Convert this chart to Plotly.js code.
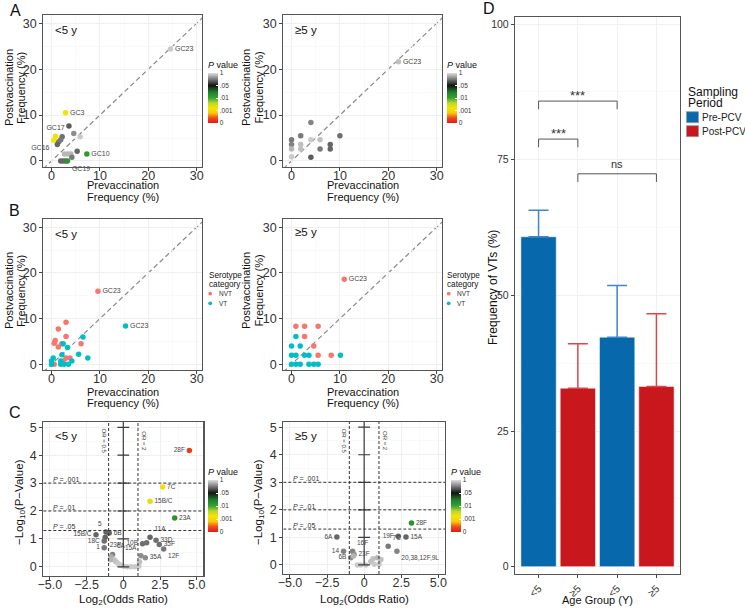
<!DOCTYPE html>
<html><head><meta charset="utf-8">
<script src="https://cdn.plot.ly/plotly-3.0.1.min.js"></script>
<style>body{margin:0;background:#fff}#c{width:745px;height:608px}</style>
</head><body><div id="c"></div>
<script>
// ---------------- DATA ----------------
// Panel A (<5 y): prevaccination vs postvaccination frequency (%), colour position on P-value bar (0=0,1=.001,2=.01,3=.05,4=1)
const aLeftPre   = [24.6, 2.9, 3.6, 4.6, 5.9, 0.83, 0.48, 2.2, 1.9, 1.5, 1.2, 5.3, 2.7, 3.4, 4.0, 4.2, 1.9, 2.4, 2.9, 3.3, 7.3];
const aLeftPost  = [24.4,10.5, 7.6, 6.0, 5.3, 5.4, 4.5, 5.3, 4.6, 4.2, 3.6, 2.1, 1.5, 1.5, 1.5, 0.8, 0, 0, 0, 0, 1.5];
const aLeftPcol  = [3.9, 1.15,3.35,3.6, 3.9, 1.1, 1.2, 3.45,3.5, 3.5, 3.4, 3.4, 3.8, 3.8, 3.8, 3.5, 3.4,3.4,3.4,2.2,2.15];
const aLeftLabel = ['GC23','GC3','','','','GC17','GC16','','','','','','','','','','','','','GC19','GC10'];
const aLeftLabPos= ['middle right','middle right','','','','top center','bottom left','','','','','','','','','','','','','bottom right','middle right'];
// Panel A (>=5 y)
const aRightPre  = [0, 0, 0, 0, 1.9, 1.9, 1.9, 4.0, 4.0, 4.0, 5.9, 5.9, 8.0, 8.0, 10.0, 22.1];
const aRightPost = [4.6,3.6,2.6,0.9,5.5, 3.6, 2.6, 8.4, 4.6, 0.8, 4.6, 2.6, 3.6, 2.6, 5.5, 21.6];
const aRightPcol = [3.5,3.55,3.8,3.9,3.5,3.85,3.85,3.55,3.9,3.35,3.85,3.5,3.4,3.4,3.45,3.85];
const aRightLabel= ['','','','','','','','','','','','','','','','GC23'];
// Panel B (<5 y) by serotype category
const bLeftNvtPre  = [9.6, 3.0, 1.4, 0.76, 0.55, 3.0, 2.15, 1.4, 6.1, 3.0, 3.8, 2.5, 0.55];
const bLeftNvtPost = [16.0,9.2, 7.7, 5.2, 4.6, 6.1, 4.5, 3.8, 4.5, 1.4, 1.4, 0.7, 0];
const bLeftNvtLab  = ['GC23','','','','','','','','','','','',''];
const bLeftVtPre   = [15.3, 6.5, 2.4, 3.3, 2.15, 5.6, 7.5, 0.35, 0, 1.9, 4.2, 0, 1.9, 2.6, 3.5];
const bLeftVtPost  = [8.4, 6.0, 4.5, 3.7, 2.1, 2.2, 1.4, 1.4, 0.7, 0.7, 0.7, 0, 0, 0, 0];
const bLeftVtLab   = ['GC23','','','','','','','','','','','','','',''];
// Panel B (>=5 y)
const bRightNvtPre  = [10.9, 0.9, 2.7, 5.5, 2.7, 4.6, 5.5, 8.2];
const bRightNvtPost = [18.6, 8.3, 8.3, 8.3, 6.1, 4.0, 2.0, 2.0];
const bRightNvtLab  = ['GC23','','','','','','',''];
const bRightVtPre   = [0.9, 0, 1.8, 0, 0.9, 2.7, 3.6, 10.1, 0, 0.9, 1.8, 3.6, 4.6, 5.5];
const bRightVtPost  = [6.1, 4.0, 4.0, 2, 2, 2, 2, 2, 0, 0, 0, 0, 0, 0];
// Panel C (<5 y): log2(odds ratio), -log10(P)
const cLeftLog2OR = [4.5, 2.68, 1.82, 3.5, -1.86, -1.18, -0.96, -1.23, -1.30, -1.30, -0.73, 1.82, 1.31, 1.59, 2.23, 2.45, 2.75, 1.2, 1.5,
                     -0.84, -0.61, -0.5, -0.35, -0.2, 0.02, 0.25, 0.5, 0.78, 1.05, 1.1, -0.88];
const cLeftNegLogP = [4.17, 2.86, 2.35, 1.75, 1.15, 1.25, 1.21, 1.06, 0.92, 0.68, 0.44, 1.06, 0.83, 0.86, 0.95, 0.80, 0.64, 0.40, 0.32,
                     0.36, 0.24, 0.18, 0.12, 0.06, 0.02, 0, 0, 0, 0.02, 0.18, 0.25];
const cLeftPcol  = [0.3, 1.1, 1.35, 2.2, 3.4, 3.4, 3.4, 3.4, 3.45, 3.5, 3.55, 3.4, 3.45, 3.45, 3.45, 3.45, 3.5, 3.6, 3.6,
                    3.75, 3.85, 3.85, 3.9, 3.9, 3.9, 3.9, 3.9, 3.9, 3.9, 3.85, 3.8];
const cLeftLabel = ['28F','7C','15B/C','23A','15B/C','5','6B','23P','18C','1','6A','11A','10B','','33D','35F','12F','15A','35A',
                    '','','','','','','','','','','',''];
const cLeftLabPos= ['middle left','middle right','middle right','middle right','middle left','top left','middle right','bottom right','middle left','middle left','top right','top right','middle left','middle right','middle right','middle right','bottom right','top left','middle right',
                    'middle right','middle right','middle right','middle right','middle right','middle right','middle right','middle right','middle right','middle right','middle right','middle right'];
// Panel C (>=5 y)
const cRightLog2OR = [3.19, -1.84, 2.30, 2.82, 1.62, 2.21, -1.39, -0.78, -0.68, -0.9,
                      -0.72, -0.45, -0.22, 0.11, 0.45, 0.6, 0.68, 0.9, 1.01, 1.13];
const cRightNegLogP= [1.52, 1.01, 1.04, 1.01, 0.68, 0.50, 0.50, 0.50, 0.38, 0.26,
                      0.32, 0, 0, 0, 0.12, 0.22, 0.02, 0.26, 0.02, 0.2];
const cRightPcol   = [2.2, 3.4, 3.4, 3.4, 3.5, 3.55, 3.55, 3.55, 3.6, 3.6,
                      3.8, 3.9, 3.9, 3.9, 3.85, 3.85, 3.9, 3.8, 3.9, 3.85];
const cRightLabel  = ['28F','6A','19F','15A','7C','20,38,12F,9L','14','16F','23F','6B','','','','','','','','','',''];
const cRightLabPos = ['middle right','middle left','middle left','middle right','top right','bottom right','middle left','top right','middle right','middle left',
                      'middle right','middle right','middle right','middle right','middle right','middle right','middle right','middle right','middle right','middle right'];
const pThresholds = [0.05, 0.01, 0.001];
const pThreshText = ['.05', '.01', '.001'];
const orThresholds = [0.5, 2];
const orText = ['0.5', '2'];
// Panel D: frequency of VTs (%)
const dAgeLabels = ['<5', '≥5', '<5', '≥5'];
const dPrePos  = [1, 3];
const dPreVal  = [60.8, 42.3];
const dPreErr  = [4.9, 9.5];
const dPostPos = [2, 4];
const dPostVal = [32.9, 33.2];
const dPostErr = [8.2, 13.4];
const dCmpFrom = [1, 1, 2];
const dCmpTo   = [3, 2, 4];
const dCmpY    = [85.8, 78.8, 72.4];
const dCmpText = ['***', '***', 'ns'];
const pBarTickVals = [0, 1, 2, 3, 4];
const pBarTickText = ['0', '.001', '.01', '.05', '1'];

// ---------------- STYLE / LAYOUT ----------------
const W = 745, H = 608;
const FONT = 'Liberation Sans, Arial, sans-serif';
const fx = v => v / W, fy = v => 1 - v / H;
const pScale = [[0,'#e4191c'],[0.1,'#f04a1c'],[0.2,'#f9c80e'],[0.3,'#f3e600'],[0.4,'#bcd72a'],[0.5,'#33a532'],[0.62,'#1f7d2a'],[0.75,'#141414'],[1,'#dedede']];
const NVT = '#F8766D', VT = '#00BFC4';

const colL = [43.3, 202], colR = [283.3, 442];
const rowA = [15, 166.7], rowB = [219, 370], rowC = [421.7, 576];

function axisBase(dom, rng, tv, tt, minorD) {
  const a = {
    domain: dom, range: rng, tickvals: tv, ticks: 'outside', ticklen: 3, tickcolor: '#444', tickwidth: 1,
    showline: true, mirror: true, linecolor: '#555', linewidth: 1.2, zeroline: false,
    showgrid: true, gridcolor: '#ececec', gridwidth: 0.8,
    tickfont: {size: 12.5, color: '#333', family: FONT}, fixedrange: true
  };
  if (tt) a.ticktext = tt;
  if (minorD) a.minor = {dtick: minorD, showgrid: true, gridcolor: '#f5f5f5', gridwidth: 0.6, ticks: ''};
  return a;
}
const freqX = [-1.7, 31.1], freqY = [-1.25, 31.8];
const fTicks = [0, 10, 20, 30];
const orTickV = [-5, -2.5, 0, 2.5, 5], orTickT = ['−5.0','−2.5','0','2.5','5.0'];

const layout = {
  width: W, height: H, margin: {l: 0, r: 0, t: 0, b: 0},
  paper_bgcolor: '#fff', plot_bgcolor: '#fff', showlegend: false,
  font: {family: FONT, color: '#222'},
  barmode: 'overlay',
  xaxis:  Object.assign(axisBase([fx(colL[0]), fx(colL[1])], freqX, fTicks, null, 5), {anchor: 'y'}),
  yaxis:  Object.assign(axisBase([fy(rowA[1]), fy(rowA[0])], freqY, fTicks, null, 5), {anchor: 'x'}),
  xaxis2: Object.assign(axisBase([fx(colR[0]), fx(colR[1])], freqX, fTicks, null, 5), {anchor: 'y2'}),
  yaxis2: Object.assign(axisBase([fy(rowA[1]), fy(rowA[0])], freqY, fTicks, null, 5), {anchor: 'x2'}),
  xaxis3: Object.assign(axisBase([fx(colL[0]), fx(colL[1])], freqX, fTicks, null, 5), {anchor: 'y3'}),
  yaxis3: Object.assign(axisBase([fy(rowB[1]), fy(rowB[0])], freqY, fTicks, null, 5), {anchor: 'x3'}),
  xaxis4: Object.assign(axisBase([fx(colR[0]), fx(colR[1])], freqX, fTicks, null, 5), {anchor: 'y4'}),
  yaxis4: Object.assign(axisBase([fy(rowB[1]), fy(rowB[0])], freqY, fTicks, null, 5), {anchor: 'x4'}),
  xaxis5: Object.assign(axisBase([fx(43.3), fx(203.3)], [-5.45, 5.45], orTickV, orTickT, 1.25), {anchor: 'y5'}),
  yaxis5: Object.assign(axisBase([fy(rowC[1]), fy(rowC[0])], [-0.33, 5.2], [0,1,2,3,4,5], null, 0.5), {anchor: 'x5'}),
  xaxis6: Object.assign(axisBase([fx(283.3), fx(445)], [-5.45, 5.45], orTickV, orTickT, 1.25), {anchor: 'y6'}),
  yaxis6: Object.assign(axisBase([fy(574), fy(rowC[0])], [-0.33, 5.2], [0,1,2,3,4,5], null, 0.5), {anchor: 'x6'}),
  xaxis7: Object.assign(axisBase([fx(515), fx(680)], [0.4, 4.6], [1,2,3,4], dAgeLabels, null), {anchor: 'y7', tickangle: -45}),
  yaxis7: Object.assign(axisBase([fy(574), fy(16.7)], [-1.35, 101.35], [0,25,50,75,100], null, 12.5), {anchor: 'x7'}),
  shapes: [], annotations: []
};
layout.xaxis7.tickfont.size = 10.5; layout.yaxis7.tickfont.size = 10.5;
['xaxis','xaxis2','xaxis3','xaxis4','xaxis5','xaxis6'].forEach(k => { layout[k].ticklabelstandoff = -6; });

function ann(xp, yp, text, size, opts) {
  layout.annotations.push(Object.assign({xref: 'paper', yref: 'paper', x: fx(xp), y: fy(yp), showarrow: false, text: text,
    xanchor: 'left', yanchor: 'middle', font: {size: size, color: '#111', family: FONT}}, opts || {}));
}
function title(xp, yp, text, size, rot) {
  ann(xp, yp, text, size, {xanchor: 'center', yanchor: 'middle', textangle: rot ? -90 : 0});
}

const traces = [];
function pColorbar(xPx, topPx, lenPx) {
  return {x: fx(xPx), xanchor: 'left', y: fy(topPx), yanchor: 'top', lenmode: 'pixels', len: lenPx,
          thickness: 10, thicknessmode: 'pixels', xpad: 0, ypad: 0, outlinewidth: 0,
          tickvals: pBarTickVals, ticktext: pBarTickText, ticks: 'inside', ticklen: 2, tickcolor: '#fff',
          tickfont: {size: 6.5, color: '#333', family: FONT},
          title: {text: '<i>P</i> value', side: 'top', font: {size: 9, color: '#111', family: FONT}}};
}
function pTrace(x, y, c, lab, pos, xa, ya, cb, ls) {
  return {type: 'scatter', mode: 'markers+text', x: x, y: y, text: lab, textposition: pos || 'middle right',
          textfont: {size: ls, color: '#444', family: FONT}, xaxis: xa, yaxis: ya, cliponaxis: false,
          marker: {size: 5.5, color: c, colorscale: pScale, cmin: 0, cmax: 4, showscale: true, colorbar: cb, line: {width: 0}},
          hoverinfo: 'skip'};
}
function catTrace(x, y, lab, col, xa, ya) {
  return {type: 'scatter', mode: 'markers+text', x: x, y: y, text: lab, textposition: 'middle right',
          textfont: {size: 7, color: '#444', family: FONT}, xaxis: xa, yaxis: ya,
          marker: {size: 5.5, color: col}, hoverinfo: 'skip'};
}
// diagonal references (y = x)
[['x','y'],['x2','y2'],['x3','y3'],['x4','y4']].forEach(([xa, ya]) => {
  layout.shapes.push({type: 'line', xref: xa, yref: ya, x0: freqX[0], y0: freqX[0], x1: freqX[1], y1: freqX[1],
    line: {color: '#8a8a8a', width: 1.2, dash: '5px,3px'}, layer: 'below'});
});
traces.push(pTrace(aLeftPre, aLeftPost, aLeftPcol, aLeftLabel, aLeftLabPos, 'x', 'y', pColorbar(208, 58, 65), 7));
traces.push(pTrace(aRightPre, aRightPost, aRightPcol, aRightLabel, 'middle right', 'x2', 'y2', pColorbar(447, 58, 65), 7));
traces.push(catTrace(bLeftNvtPre, bLeftNvtPost, bLeftNvtLab, NVT, 'x3', 'y3'));
traces.push(catTrace(bLeftVtPre, bLeftVtPost, bLeftVtLab, VT, 'x3', 'y3'));
traces.push(catTrace(bRightNvtPre, bRightNvtPost, bRightNvtLab, NVT, 'x4', 'y4'));
traces.push(catTrace(bRightVtPre, bRightVtPost, bRightVtPre.map(() => ''), VT, 'x4', 'y4'));

// Panel C reference lines
[['x5','y5'],['x6','y6']].forEach(([xa, ya]) => {
  const xr = layout['xaxis' + xa.slice(1)].range;
  const yr = layout['yaxis' + ya.slice(1)].range;
  layout.shapes.push({type: 'line', xref: xa, yref: ya, x0: 0, x1: 0, y0: 0, y1: yr[1], line: {color: '#3a3a3a', width: 1.2}, layer: 'above'});
  for (let k = 0; k <= 5; k++) layout.shapes.push({type: 'line', xref: xa, yref: ya, x0: -0.4, x1: 0.4, y0: k, y1: k, line: {color: '#3a3a3a', width: 1.2}, layer: 'above'});
  pThresholds.forEach((p, i) => {
    const yv = -Math.log10(p);
    layout.shapes.push({type: 'line', xref: xa, yref: ya, x0: xr[0], x1: xr[1], y0: yv, y1: yv, line: {color: '#333', width: 1, dash: '3px,2px'}});
    layout.annotations.push({xref: xa, yref: ya, x: -4.95, y: yv, xanchor: 'left', yanchor: 'bottom', showarrow: false,
      text: '<i>P</i> = ' + pThreshText[i], font: {size: 7, color: '#333', family: FONT}, yshift: -2});
  });
  orThresholds.forEach((o, i) => {
    const xv = Math.log2(o);
    layout.shapes.push({type: 'line', xref: xa, yref: ya, x0: xv, x1: xv, y0: yr[0], y1: yr[1], line: {color: '#333', width: 1, dash: '3px,2px'}});
    layout.annotations.push({xref: xa, yref: ya, x: xv, y: 4.5, xshift: xv < 0 ? -5 : 6, textangle: 90, showarrow: false,
      text: 'OR = ' + orText[i], font: {size: 6, color: '#444', family: FONT}});
  });
});
traces.push(pTrace(cLeftLog2OR, cLeftNegLogP, cLeftPcol, cLeftLabel, cLeftLabPos, 'x5', 'y5', pColorbar(208, 465, 67), 6.5));
traces.push(pTrace(cRightLog2OR, cRightNegLogP, cRightPcol, cRightLabel, cRightLabPos, 'x6', 'y6', pColorbar(451, 465, 67), 6.5));

// Panel D bars
traces.push({type: 'bar', x: dPrePos, y: dPreVal, width: 0.9, xaxis: 'x7', yaxis: 'y7', name: 'Pre-PCV',
  marker: {color: '#0868ac', line: {color: 'rgba(255,255,255,0.55)', width: 1}},
  error_y: {type: 'data', array: dPreErr, arrayminus: dPreErr.map(() => 0), symmetric: false, color: '#3d86c8', thickness: 1.5, width: 10},
  hoverinfo: 'skip'});
traces.push({type: 'bar', x: dPostPos, y: dPostVal, width: 0.9, xaxis: 'x7', yaxis: 'y7', name: 'Post-PCV',
  marker: {color: '#c8181e', line: {color: 'rgba(255,255,255,0.55)', width: 1}},
  error_y: {type: 'data', array: dPostErr, arrayminus: dPostErr.map(() => 0), symmetric: false, color: '#d9484a', thickness: 1.5, width: 10},
  hoverinfo: 'skip'});
dCmpFrom.forEach((a, i) => {
  const b = dCmpTo[i], yv = dCmpY[i];
  layout.shapes.push({type: 'path', xref: 'x7', yref: 'y7',
    path: `M ${a},${yv - 1.5} L ${a},${yv} L ${b},${yv} L ${b},${yv - 1.5}`, line: {color: '#555', width: 1}});
  const star = dCmpText[i] !== 'ns';
  layout.annotations.push({xref: 'x7', yref: 'y7', x: (a + b) / 2, y: yv + (star ? 1.0 : 1.85), yanchor: 'middle', showarrow: false,
    text: dCmpText[i], font: {size: star ? 13 : 11, color: '#333', family: FONT}});
});

// axis titles (each line placed separately for tight line spacing)
const TS = 11;
[[9, 21, 88], [246, 258.5, 88], [9, 21, 291], [246, 258.5, 291]].forEach(([x1, x2, yc]) => {
  title(x1, yc, 'Postvaccination', TS, true); title(x2, yc, 'Frequency (%)', TS, true);
});
[[122.6, 185, 197], [362.6, 185, 197], [122.6, 391.5, 403], [362.6, 391.5, 403]].forEach(([xc, y1, y2]) => {
  title(xc, y1, 'Prevaccination', TS); title(xc, y2, 'Frequency (%)', TS);
});
title(20, 502, '−Log<sub>10</sub>(P−Value)', 11.5, true); title(259, 502, '−Log<sub>10</sub>(P−Value)', 11.5, true);
title(123.3, 600, 'Log<sub>2</sub>(Odds Ratio)', 11.5); title(364, 600, 'Log<sub>2</sub>(Odds Ratio)', 11.5);
title(493, 288, 'Frequency of VTs (%)', 12, true);
title(597.5, 600, 'Age Group (Y)', 11);

// in-panel labels
ann(53, 30, '<5 y', 11.5); ann(292.7, 29.5, '≥5 y', 11.5);
ann(53, 234, '<5 y', 11.5); ann(292.7, 232, '≥5 y', 11.5);
ann(53, 436, '<5 y', 11.5); ann(293, 436, '≥5 y', 11.5);
ann(8, 10, 'A', 16); ann(7, 210, 'B', 16); ann(7, 412, 'C', 16); ann(481, 9, 'D', 16);

// B legends (manual)
function catLegend(x0) {
  ann(x0, 275, 'Serotype', 8.2); ann(x0, 284.3, 'category', 8.2);
  [[NVT, 'NVT', 293.7], [VT, 'VT', 303.3]].forEach(([c, t, yy]) => {
    layout.shapes.push({type: 'circle', xref: 'paper', yref: 'paper', x0: fx(x0 + 1.8), x1: fx(x0 + 5.6), y0: fy(yy + 1.9), y1: fy(yy - 1.9),
      fillcolor: c, line: {width: 0}});
    ann(x0 + 10, yy, t, 6.5, {font: {size: 6.5, color: '#333', family: FONT}});
  });
}
catLegend(206.5); catLegend(445);

// D legend (manual)
ann(685.5, 91.7, 'Sampling', 12); ann(685.5, 103, 'Period', 12);
[['#0868ac', 'Pre-PCV', 117.2], ['#c8181e', 'Post-PCV', 131.2]].forEach(([c, t, yy]) => {
  layout.shapes.push({type: 'rect', xref: 'paper', yref: 'paper', x0: fx(686.5), x1: fx(698.5), y0: fy(yy + 5.5), y1: fy(yy - 5.5),
    fillcolor: c, line: {color: '#999', width: 0.8}});
  ann(699.5, yy, t, 10, {font: {size: 10, color: '#222', family: FONT}});
});

Plotly.newPlot('c', traces, layout, {displayModeBar: false, staticPlot: true});
</script></body></html>
